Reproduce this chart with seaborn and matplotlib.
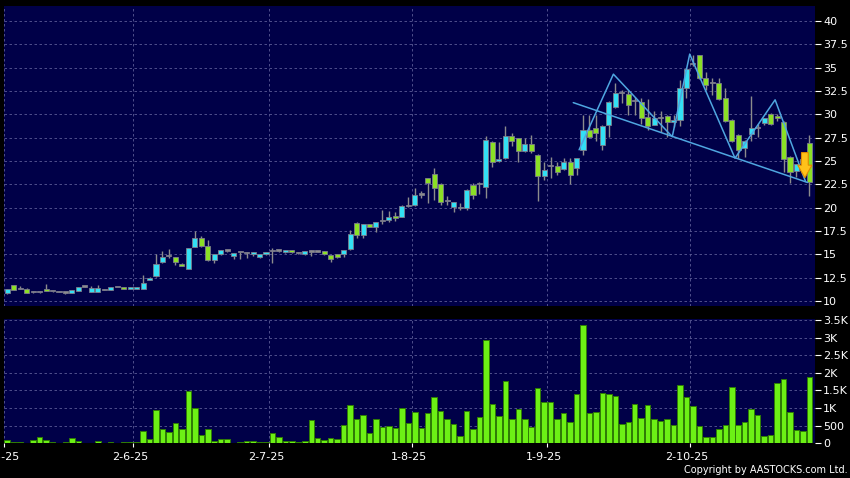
import numpy as np
import pandas as pd
import seaborn as sns
from matplotlib import pyplot as plt
from matplotlib.patches import FancyArrow
import matplotlib.transforms as mtransforms

# daily OHLC (one entry per trading day)
opens = [10.9, 11.7, 11.3, 11.3, 11.0, 10.95, 11.3, 11.05, 11.0, 10.9,
         10.9, 11.1, 11.55, 11.0, 11.0, 11.2, 11.2, 11.5, 11.45, 11.25,
         11.25, 11.25, 12.3, 12.7, 14.15, 14.8, 14.7, 14.0, 13.45, 15.8,
         16.75, 15.9, 14.35, 15.0, 15.4, 14.8, 15.2, 15.15, 15.0, 14.7,
         15.0, 15.35, 15.4, 15.2, 15.45, 15.1, 15.0, 15.3, 15.3, 15.35,
         14.9, 15.0, 15.0, 15.55, 18.4, 17.05, 18.2, 17.9, 18.6, 18.7,
         19.1, 19.0, 20.2, 20.25, 21.4, 23.15, 23.6, 22.5, 20.75, 20.1,
         19.95, 19.95, 22.4, 22.5, 22.25, 27.0, 25.0, 25.3, 27.7, 27.45,
         26.1, 26.8, 25.65, 23.4, 24.5, 24.5, 24.1, 24.85, 24.2, 26.2,
         28.3, 28.5, 26.7, 28.85, 30.8, 32.25, 32.15, 31.45, 31.3, 29.7,
         28.85, 29.55, 29.8, 29.2, 29.4, 32.8, 35.35, 36.35, 33.85, 33.3,
         33.3, 31.7, 29.4, 27.8, 26.35, 27.85, 28.5, 29.05, 30.05, 29.8,
         29.2, 25.4, 23.95, 24.75, 26.9]
highs = [11.3, 11.75, 11.6, 11.35, 11.1, 11.0, 11.8, 11.1, 11.05, 10.95,
         11.15, 11.55, 11.6, 11.6, 11.7, 11.25, 11.5, 11.55, 11.45, 11.45,
         11.45, 12.8, 12.6, 15.0, 15.35, 15.6, 14.75, 14.05, 15.7, 17.45,
         16.95, 16.5, 15.05, 15.5, 15.5, 15.15, 15.3, 15.3, 15.3, 15.05,
         15.25, 15.65, 15.5, 15.5, 15.5, 15.25, 15.4, 15.45, 15.4, 15.4,
         14.95, 15.05, 15.5, 17.6, 18.45, 18.25, 18.3, 18.5, 19.8, 19.65,
         19.55, 20.25, 21.1, 22.1, 21.8, 23.2, 24.2, 22.6, 21.25, 20.65,
         20.5, 21.95, 22.6, 22.8, 27.7, 27.1, 27.0, 28.7, 28.0, 27.5,
         27.45, 27.8, 25.7, 24.9, 25.4, 24.9, 25.3, 25.3, 25.35, 29.9,
         29.9, 29.9, 28.8, 31.4, 33.3, 32.6, 32.6, 31.9, 31.7, 31.6,
         30.3, 30.3, 29.9, 29.9, 33.7, 34.85, 36.35, 36.4, 34.5, 33.85,
         33.85, 32.8, 29.5, 27.9, 27.2, 31.95, 29.0, 29.6, 30.1, 30.0,
         29.3, 25.5, 24.7, 25.2, 27.8]
lows = [10.7, 11.2, 11.25, 10.9, 10.9, 10.9, 11.1, 11.0, 10.95, 10.75,
        10.85, 11.1, 11.5, 10.95, 11.0, 11.15, 11.2, 11.45, 11.3, 11.25,
        11.25, 11.25, 12.2, 12.6, 14.1, 14.6, 13.85, 13.7, 13.4, 15.75,
        15.8, 14.3, 14.1, 14.95, 15.3, 14.5, 14.55, 14.6, 14.8, 14.65,
        14.95, 14.05, 15.3, 15.15, 15.15, 15.0, 14.95, 14.8, 15.2, 14.95,
        14.2, 14.65, 14.7, 15.5, 16.7, 16.8, 17.9, 17.4, 18.3, 18.5,
        18.6, 18.95, 20.1, 20.2, 21.0, 20.5, 20.8, 20.3, 20.3, 19.5,
        19.7, 19.7, 20.9, 21.45, 21.0, 24.4, 24.9, 25.2, 26.55, 24.9,
        26.0, 25.8, 20.75, 23.0, 23.15, 23.5, 24.0, 22.55, 23.5, 25.65,
        27.5, 27.1, 26.2, 27.6, 30.7, 31.2, 29.9, 29.9, 29.0, 28.3,
        28.8, 28.1, 27.6, 28.6, 28.7, 31.7, 35.2, 33.8, 32.6, 32.1,
        31.5, 29.2, 27.0, 25.3, 25.45, 27.1, 27.6, 28.9, 28.9, 29.3,
        23.85, 22.6, 23.3, 24.6, 21.2]
closes = [11.3, 11.2, 11.3, 10.9, 11.0, 10.95, 11.1, 11.05, 11.0, 10.9,
          11.15, 11.55, 11.55, 11.4, 11.4, 11.2, 11.5, 11.5, 11.3, 11.45,
          11.45, 11.9, 12.5, 14.0, 14.75, 14.8, 14.15, 13.75, 15.65, 16.7,
          15.85, 14.35, 15.0, 15.45, 15.4, 15.1, 15.2, 15.15, 15.25, 15.0,
          15.2, 15.35, 15.4, 15.45, 15.2, 15.1, 15.35, 15.3, 15.3, 15.0,
          14.45, 14.7, 15.45, 17.15, 17.05, 18.2, 17.95, 18.45, 18.6, 19.0,
          18.85, 20.2, 20.2, 21.35, 21.4, 22.6, 22.1, 20.6, 20.75, 20.6,
          19.95, 21.9, 21.35, 22.5, 27.2, 24.9, 25.2, 27.7, 27.1, 26.1,
          26.8, 26.1, 23.4, 24.0, 24.5, 23.85, 24.85, 23.5, 25.3, 28.3,
          27.6, 28.0, 28.75, 31.35, 32.25, 32.25, 31.0, 31.45, 29.55, 28.75,
          29.55, 29.55, 29.2, 29.4, 32.8, 34.8, 35.35, 33.85, 33.15, 33.3,
          31.6, 29.3, 27.1, 26.2, 27.15, 28.5, 28.5, 29.55, 29.0, 29.6,
          25.2, 23.8, 24.65, 25.2, 22.8]
volume = [90, 47, 40, 15, 90, 180, 80, 45, 15, 30,
          140, 65, 5, 10, 65, 5, 30, 5, 30, 30,
          30, 350, 110, 950, 400, 330, 590, 400, 1490, 1015,
          240, 410, 75, 130, 120, 10, 45, 55, 55, 40,
          40, 285, 190, 65, 65, 40, 57, 664, 142, 95,
          142, 114, 522, 1100, 693, 816, 285, 683, 455, 484,
          446, 1015, 579, 892, 436, 854, 1309, 930, 693, 560,
          218, 920, 398, 759, 2931, 1110, 778, 1755, 693, 987,
          693, 474, 1584, 1176, 1176, 683, 873, 598, 1404, 3360,
          851, 880, 1419, 1400, 1353, 549, 596, 1116, 728, 1088,
          690, 634, 690, 511, 1646, 1305, 1060, 492, 170, 189,
          397, 520, 1608, 520, 596, 974, 804, 218, 236, 1722,
          1816, 899, 378, 359, 1873]

date_labels = ['2-5-25', '2-6-25', '2-7-25', '1-8-25', '1-9-25', '2-10-25']
date_idx = [0, 20, 41, 63, 84, 106]

price_ticks = [10, 12.5, 15, 17.5, 20, 22.5, 25, 27.5, 30, 32.5, 35, 37.5, 40]
price_labels = ['10', '12.5', '15', '17.5', '20', '22.5', '25', '27.5',
                '30', '32.5', '35', '37.5', '40']
vol_ticks = [0, 500, 1000, 1500, 2000, 2500, 3000, 3500]
vol_labels = ['0', '500', '1K', '1.5K', '2K', '2.5K', '3K', '3.5K']

# hand-drawn pattern lines on the chart
zig_x = [88.4, 93.7, 102.8, 105.5, 112.5, 118.7, 123.4]
zig_y = [26.2, 34.3, 27.6, 36.45, 25.3, 31.55, 22.8]
trend_x = [87.5, 123.7]
trend_y = [31.25, 22.7]

sns.set_style("dark")
plt.rcParams['font.family'] = ['DejaVu Sans']

df = pd.DataFrame({'o': opens, 'h': highs, 'l': lows, 'c': closes, 'v': volume})
df['i'] = np.arange(len(df))

navy = '#000048'
grid_kw = dict(color='#5c5c96', linestyle=(0, (3, 3)), linewidth=0.6)
up_col, down_col, flat_col = '#33e0f4', '#8be025', '#8c8c8c'

fig = plt.figure(figsize=(8.5, 4.78), dpi=100, facecolor='black')
ax = fig.add_axes([0.0047, 0.3598, 0.954, 0.6276], facecolor=navy)
axv = fig.add_axes([0.0047, 0.0726, 0.954, 0.2594], facecolor=navy, sharex=ax)

# candles
ax.vlines(df['i'], df['l'], df['h'], color=flat_col, linewidth=1, zorder=2)
cols = np.where(df['c'] > df['o'], up_col, np.where(df['c'] < df['o'], down_col, flat_col))
body = (df['c'] - df['o']).abs().clip(lower=0.12)
ax.bar(df['i'], body, bottom=df[['o', 'c']].min(axis=1), width=0.78,
       color=cols, edgecolor='#7c7c8c', linewidth=0.6, zorder=3)

sns.lineplot(x=zig_x, y=zig_y, ax=ax, color='#4fa6e0', linewidth=1.1, sort=False, zorder=4)
sns.lineplot(x=trend_x, y=trend_y, ax=ax, color='#4fa6e0', linewidth=1.1, sort=False, zorder=4)
ax.add_patch(FancyArrow(123.3, 25.9, 0, -2.7, width=1.05, head_width=2.2,
                        head_length=1.35, length_includes_head=True,
                        facecolor='#ffc21a', edgecolor='#e08a00', linewidth=0.8, zorder=5))

# volume
sns.barplot(x=df['i'], y=df['v'], ax=axv, native_scale=True, color='#6cf015',
            saturation=1, edgecolor='#2f7d05', linewidth=0.7, width=0.85, errorbar=None)

for a in (ax, axv):
    a.set_xlim(-0.46, 124.85)
    a.set_xticks([d - 0.5 for d in date_idx])
    a.grid(True, **grid_kw)
    a.set_axisbelow(True)
    a.yaxis.tick_right()
    a.tick_params(axis='y', colors='white', labelsize=8, length=4, width=0.8, pad=2, right=True)
    for s in a.spines.values():
        s.set_visible(False)
    a.set_xlabel('')
    a.set_ylabel('')

ax.set_ylim(9.46, 41.6)
ax.set_yticks(price_ticks, price_labels)
ax.tick_params(axis='x', bottom=False, labelbottom=False)

axv.set_ylim(0, 3520)
axv.set_yticks(vol_ticks, vol_labels)
axv.set_xticks([d - 0.5 for d in date_idx], date_labels)
axv.tick_params(axis='x', colors='white', labelsize=8, length=3, width=0.8, pad=3, bottom=True)
shift = mtransforms.ScaledTranslation(-3 / 100, 0, fig.dpi_scale_trans)
for lab in axv.get_xticklabels():
    lab.set_transform(lab.get_transform() + shift)

fig.text(0.997, 0.006, 'Copyright by AASTOCKS.com Ltd.', color='white',
         fontsize=7, ha='right', va='bottom')

fig.savefig('out.png', dpi=100, facecolor='black')
